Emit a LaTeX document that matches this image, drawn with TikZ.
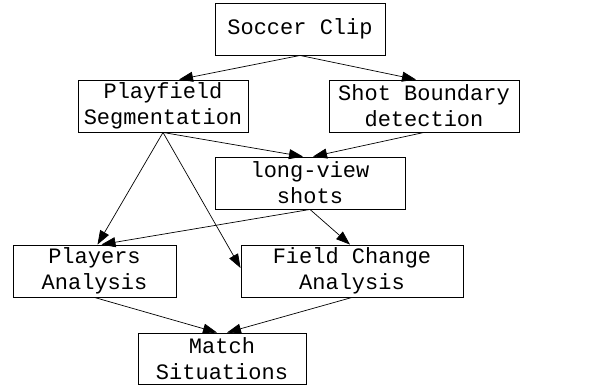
\documentclass[tikz,border=0pt]{standalone}
\usepackage{fontspec}
\usetikzlibrary{arrows.meta}
\newfontfamily\boxfont{Liberation Mono}

\begin{document}
\begin{tikzpicture}[
  x=1pt,y=-1pt,
  font=\boxfont\fontsize{22}{26}\selectfont,
  box/.style={draw,line width=0.9pt,align=center,inner sep=0pt,minimum height=52pt},
  ptr/.style={-{Triangle[length=14pt,width=10pt]},line width=0.7pt},
]
\useasboundingbox (0,0) rectangle (594,385);
\node[box,minimum width=170pt] (clip)    at (300,29)   {Soccer Clip};
\node[box,minimum width=170pt] (play)    at (163,106)  {Playfield\\Segmentation};
\node[box,minimum width=190pt] (shot)    at (424,106)  {Shot Boundary\\detection};
\node[box,minimum width=190pt] (long)    at (310,183)  {long-view\\shots};
\node[box,minimum width=163pt] (players) at (94.5,271) {Players\\Analysis};
\node[box,minimum width=222pt] (field)   at (352,271)  {Field Change\\Analysis};
\node[box,minimum width=168pt,minimum height=51pt] (match) at (222,358.5) {Match\\Situations};
% edges
\draw[ptr] (clip.south) -- ([xshift=16pt]play.north);
\draw[ptr] (clip.south) -- ([xshift=-8pt]shot.north);
\draw[ptr] (play.south) -- ([xshift=-7pt]long.north);
\draw[ptr] (shot.south) -- ([xshift=3pt]long.north);
\draw[ptr] (play.south) -- ([xshift=3pt]players.north);
\draw[ptr] (play.south) -- ([yshift=3pt]field.west);
\draw[ptr] (long.south) -- ([xshift=7pt]players.north);
\draw[ptr] (long.south) -- ([xshift=-2pt]field.north);
\draw[ptr] (players.south) -- ([xshift=-5pt]match.north);
\draw[ptr] (field.south) -- ([xshift=5pt]match.north);
\end{tikzpicture}
\end{document}
